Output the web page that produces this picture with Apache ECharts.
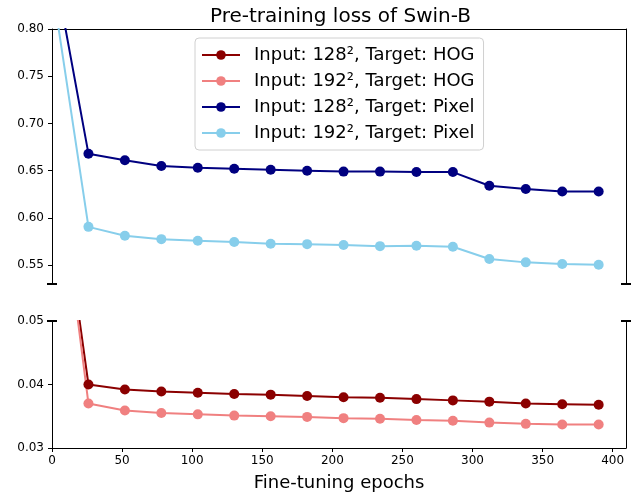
<!DOCTYPE html>
<html>
<head>
<meta charset="utf-8">
<script src="https://cdn.jsdelivr.net/npm/echarts@6/dist/echarts.min.js"></script>
<style>html,body{margin:0;padding:0;background:#fff;}#c{width:633px;height:494px;}</style>
</head>
<body>
<div id="c"></div>
<script>
const epochs = [0, 26, 52, 78, 104, 130, 156, 182, 208, 234, 260, 286, 312, 338, 364, 390];
const seriesNames = ['Input: 128², Target: HOG', 'Input: 192², Target: HOG', 'Input: 128², Target: Pixel', 'Input: 192², Target: Pixel'];
const hog128 = [0.0814, 0.0400, 0.0392, 0.0389, 0.0387, 0.0385, 0.0384, 0.0382, 0.0380, 0.0379, 0.0377, 0.0375, 0.0373, 0.0370, 0.0369, 0.0368];
const hog192 = [0.0822, 0.0370, 0.0359, 0.0355, 0.0353, 0.0351, 0.0350, 0.0349, 0.0347, 0.0346, 0.0344, 0.0343, 0.0340, 0.0338, 0.0337, 0.0337];
const pix128 = [0.878, 0.668, 0.661, 0.655, 0.653, 0.652, 0.651, 0.650, 0.649, 0.649, 0.6485, 0.6485, 0.634, 0.6305, 0.628, 0.628];
const pix192 = [0.847, 0.5905, 0.581, 0.5775, 0.5758, 0.5744, 0.5726, 0.5722, 0.5712, 0.5701, 0.5705, 0.5694, 0.5564, 0.5529, 0.5511, 0.5503];
const xTicks = [0, 50, 100, 150, 200, 250, 300, 350, 400];
const yTopTicks = [0.55, 0.60, 0.65, 0.70, 0.75, 0.80];
const yBottomTicks = [0.03, 0.04, 0.05];
const colors = ['#8b0000', '#f08080', '#000080', '#87ceeb'];

const FONT = 'DejaVu Sans';
const G = {left: 52, right: 7, topTop: 29, topH: 255, botTop: 321, botH: 127};
const W = 633;
const spine = {show: true, onZero: false, lineStyle: {color: '#000', width: 1}};

function pairs(ys) { return epochs.map((x, i) => [x, ys[i]]); }

const chart = echarts.init(document.getElementById('c'), null, {renderer: 'canvas'});

const yLabel = {show: true, fontFamily: FONT, fontSize: 12, color: '#000', margin: 8,
  formatter: v => v.toFixed(2)};

const option = {
  animation: false,
  backgroundColor: '#fff',
  title: {
    text: 'Pre-training loss of Swin-B', left: 205, top: 2,
    textStyle: {fontFamily: FONT, fontSize: 20, fontWeight: 'normal', color: '#000'}
  },
  legend: {
    orient: 'vertical', left: 195, top: 38,
    data: seriesNames,
    itemWidth: 38, itemHeight: 12, itemGap: 8,
    padding: [8, 9, 8, 6],
    borderColor: '#d0d0d0', borderWidth: 1, borderRadius: 4,
    backgroundColor: 'rgba(255,255,255,0.85)',
    textStyle: {fontFamily: FONT, fontSize: 18, color: '#000', padding: [0, 0, 0, 9]}
  },
  grid: [
    {left: G.left, right: G.right, top: G.topTop, height: G.topH},
    {left: G.left, right: G.right, top: G.botTop, height: G.botH}
  ],
  xAxis: [
    {type: 'value', gridIndex: 0, min: 0, max: 409.5, position: 'top',
     axisLine: spine, axisTick: {show: false}, axisLabel: {show: false}, splitLine: {show: false}},
    {type: 'value', gridIndex: 1, min: 0, max: 409.5, position: 'bottom',
     axisLine: spine,
     axisTick: {show: true, length: 4, lineStyle: {color: '#000'}, customValues: xTicks},
     axisLabel: {show: true, fontFamily: FONT, fontSize: 12, color: '#000', margin: 7, customValues: xTicks},
     splitLine: {show: false},
     name: 'Fine-tuning epochs', nameLocation: 'middle', nameGap: 26,
     nameTextStyle: {fontFamily: FONT, fontSize: 18, color: '#000'}}
  ],
  yAxis: [
    {type: 'value', gridIndex: 0, min: 0.53, max: 0.80, position: 'left',
     axisLine: spine,
     axisTick: {show: true, length: 4, lineStyle: {color: '#000'}, customValues: yTopTicks},
     axisLabel: Object.assign({customValues: yTopTicks}, yLabel),
     splitLine: {show: false}},
    {type: 'value', gridIndex: 0, min: 0.53, max: 0.80, position: 'right',
     axisLine: spine, axisTick: {show: false}, axisLabel: {show: false}, splitLine: {show: false}},
    {type: 'value', gridIndex: 1, min: 0.03, max: 0.05, position: 'left',
     axisLine: spine,
     axisTick: {show: true, length: 4, lineStyle: {color: '#000'}, customValues: yBottomTicks},
     axisLabel: Object.assign({customValues: yBottomTicks}, yLabel),
     splitLine: {show: false}},
    {type: 'value', gridIndex: 1, min: 0.03, max: 0.05, position: 'right',
     axisLine: spine, axisTick: {show: false}, axisLabel: {show: false}, splitLine: {show: false}}
  ],
  series: [
    {name: seriesNames[0], type: 'line', xAxisIndex: 1, yAxisIndex: 2, data: pairs(hog128)},
    {name: seriesNames[1], type: 'line', xAxisIndex: 1, yAxisIndex: 2, data: pairs(hog192)},
    {name: seriesNames[2], type: 'line', xAxisIndex: 0, yAxisIndex: 0, data: pairs(pix128)},
    {name: seriesNames[3], type: 'line', xAxisIndex: 0, yAxisIndex: 0, data: pairs(pix192)}
  ].map((s, i) => Object.assign(s, {
    symbol: 'circle', symbolSize: 10, clip: true,
    lineStyle: {color: colors[i], width: 2},
    itemStyle: {color: colors[i]},
    emphasis: {disabled: true}
  }))
};

// break marks (decoration) derived from grid layout
const xl = G.left, xr = W - G.right;
const yb = G.topTop + G.topH, yt = G.botTop;
const mark = (x, y) => ({type: 'line', shape: {x1: x - 5, y1: y, x2: x + 5, y2: y},
  style: {stroke: '#000', lineWidth: 2}, silent: true});
option.graphic = [mark(xl, yb), mark(xr, yb), mark(xl, yt), mark(xr, yt)];

chart.setOption(option);
</script>
</body>
</html>
